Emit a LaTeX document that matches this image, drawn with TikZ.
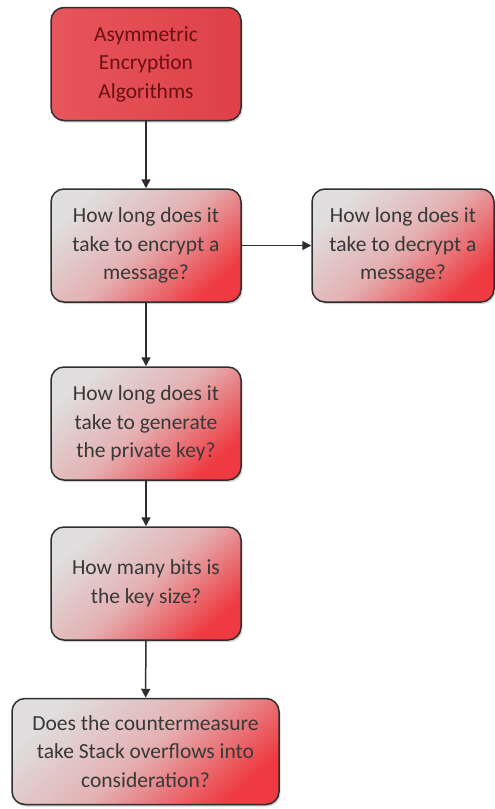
\documentclass[tikz,border=0pt]{standalone}
\usepackage{fontspec}
\setmainfont{Carlito}
\usetikzlibrary{arrows.meta,shadows}
\definecolor{edge}{HTML}{2E2E2E}
\definecolor{qtext}{HTML}{383838}
\definecolor{headred}{HTML}{E5424A}
\definecolor{headtext}{HTML}{6A1014}
\definecolor{shadegray}{HTML}{E0DEDE}
\definecolor{shadered}{HTML}{EE3A40}
\tikzset{
  box/.style={draw=edge, line width=1.5pt, rounded corners=13pt,
    align=center, font=\fontsize{21.5}{28.5}\selectfont, inner sep=0pt,
    drop shadow={shadow xshift=1.5pt, shadow yshift=-2pt, opacity=0.35}},
  headbox/.style={box, left color=headred!90!white, right color=headred!97!black, text=headtext},
  qbox/.style={box, top color=shadegray, bottom color=shadered,
    middle color=shadegray!72!shadered, shading angle=42, text=qtext},
  link/.style={draw=edge, line width=1.5pt, -{Triangle[width=9pt,length=9pt]}}
}
\begin{document}
\begin{tikzpicture}[x=1pt,y=-1pt]
  \useasboundingbox (0,0) rectangle (495,809);
  \node[headbox, minimum width=190pt, minimum height=113pt] (algo) at (146,64)
    {Asymmetric\\Encryption\\Algorithms};
  \node[qbox, minimum width=190pt, minimum height=113pt] (enc) at (146,245.5)
    {How long does it\\take to encrypt a\\message?};
  \node[qbox, minimum width=182pt, minimum height=113pt] (dec) at (403,245.5)
    {How long does it\\take to decrypt a\\message?};
  \node[qbox, minimum width=190pt, minimum height=113pt] (gen) at (146,423.5)
    {How long does it\\take to generate\\the private key?};
  \node[qbox, minimum width=190pt, minimum height=113pt] (bits) at (146,583.5)
    {How many bits is\\the key size?};
  \node[qbox, minimum width=267pt, minimum height=106pt] (stack) at (145.5,751.5)
    {Does the countermeasure\\take Stack overflows into\\consideration?};
  \draw[link] (algo) -- (enc);
  \draw[link] (enc) -- (dec);
  \draw[link] (enc) -- (gen);
  \draw[link] (gen) -- (bits);
  \draw[link] (bits) -- (stack);
\end{tikzpicture}
\end{document}
